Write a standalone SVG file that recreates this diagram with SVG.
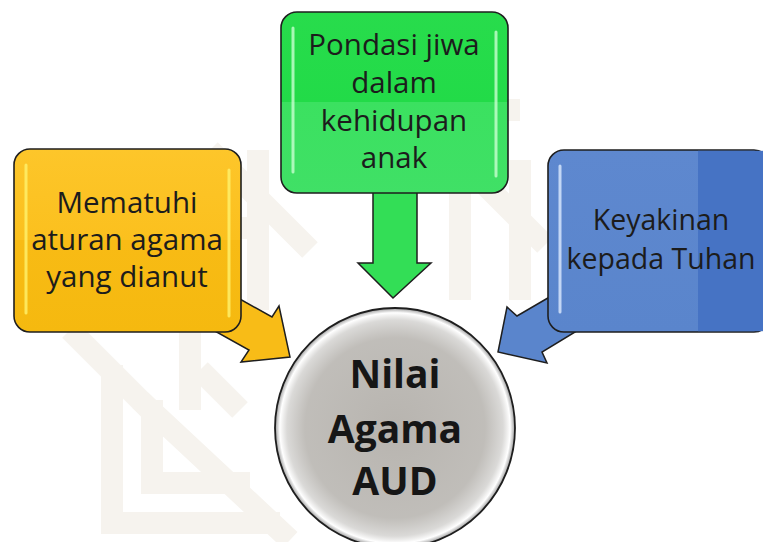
<svg xmlns="http://www.w3.org/2000/svg" width="763" height="542" viewBox="0 0 763 542">
<style>
.box{stroke:#1e1e1e;stroke-width:1.6}
.arr{stroke:#1e1e1e;stroke-width:1.5;stroke-linejoin:miter}
.t{font-family:"Open Sans","Noto Sans","DejaVu Sans",sans-serif;font-size:29.5px;fill:#1c1c1c;text-anchor:middle}
.tb{font-family:"Open Sans","Noto Sans","DejaVu Sans",sans-serif;font-size:28.5px;fill:#1c1c1c;text-anchor:middle}
.tc{font-family:"Open Sans","Noto Sans","DejaVu Sans",sans-serif;font-size:39px;font-weight:bold;fill:#161616;text-anchor:middle}
.wm{fill:none;stroke:#F6F3EE;stroke-width:22;stroke-linejoin:miter}
.hl{stroke-width:3;stroke-linecap:round;opacity:0.8}
</style>
<defs>
<linearGradient id="gy" x1="0" y1="0" x2="0" y2="1">
<stop offset="0" stop-color="#FDC62A"/><stop offset="0.5" stop-color="#FBC01E"/><stop offset="0.5" stop-color="#F8BB15"/><stop offset="1" stop-color="#F5B90F"/>
</linearGradient>
<linearGradient id="gg" x1="0" y1="0" x2="0" y2="1">
<stop offset="0" stop-color="#28DC4C"/><stop offset="0.5" stop-color="#22DB48"/><stop offset="0.5" stop-color="#3BE160"/><stop offset="1" stop-color="#40E066"/>
</linearGradient>
<linearGradient id="gb" x1="0" y1="0" x2="0" y2="1">
<stop offset="0" stop-color="#5E88CF"/><stop offset="1" stop-color="#5A85CC"/>
</linearGradient>
<radialGradient id="gc" cx="0.5" cy="0.5" r="0.5">
<stop offset="0" stop-color="#ABA7A1" stop-opacity="0.85"/>
<stop offset="0.75" stop-color="#B5B2AD" stop-opacity="0.85"/>
<stop offset="0.9" stop-color="#D6D5D3" stop-opacity="0.9"/>
<stop offset="0.96" stop-color="#FFFFFF"/>
<stop offset="1" stop-color="#9C9C9C"/>
</radialGradient>
</defs>
<rect width="763" height="542" fill="#FFFFFF"/>
<g id="watermark">
<polyline class="wm" points="112,365 112,523 280,523"/>
<polyline class="wm" points="152,400 152,483 250,483"/>
<polyline class="wm" points="190,318 190,410"/>
<line class="wm" x1="70" y1="330" x2="170" y2="430"/>
<line class="wm" x1="140" y1="400" x2="290" y2="540"/>
<line class="wm" x1="200" y1="370" x2="240" y2="410"/>
<polyline class="wm" points="258,150 258,310"/>
<polyline class="wm" points="200,228 258,228"/>
<line class="wm" x1="210" y1="150" x2="310" y2="250"/>
<polyline class="wm" points="300,110 520,110"/>
<polyline class="wm" points="460,160 460,300"/>
<line class="wm" x1="470" y1="170" x2="545" y2="245"/>
<polyline class="wm" points="520,160 520,300"/>
</g>
<g id="connectors">
<polygon class="arr" fill="#F8BC17" points="215,285 272,317 279,306 290,357 241,362 249,350 195,320"/>
<polygon class="arr" fill="#33DE56" points="373,180 417,180 417,263 431,263 393,298 358,263 373,263"/>
<polygon class="arr" fill="#5A85CC" points="565,288 517,316 507,307 498,352 547,363 542,352 585,326"/>
</g>
<g id="node-yellow">
<rect class="box" x="14" y="149" width="227" height="183" rx="16" fill="url(#gy)"/>
<line class="hl" x1="26" y1="165" x2="26" y2="313" stroke="#FFF36E"/>
<line class="hl" x1="229" y1="170" x2="229" y2="316" stroke="#FFF36E"/>
<text class="t" x="127" y="213">Mematuhi</text>
<text class="t" x="127" y="250">aturan agama</text>
<text class="t" x="127" y="287">yang dianut</text>
</g>
<g id="node-green">
<rect class="box" x="281" y="12" width="227" height="181" rx="16" fill="url(#gg)"/>
<line class="hl" x1="293" y1="28" x2="293" y2="172" stroke="#C8FFD0"/>
<line class="hl" x1="496" y1="32" x2="496" y2="176" stroke="#C8FFD0"/>
<text class="t" x="394" y="55">Pondasi jiwa</text>
<text class="t" x="394" y="93">dalam</text>
<text class="t" x="394" y="131">kehidupan</text>
<text class="t" x="394" y="168">anak</text>
</g>
<g id="node-blue">
<rect class="box" x="548" y="150" width="222" height="182" rx="16" fill="url(#gb)"/>
<rect x="698" y="150.8" width="66" height="180.4" fill="#4673C4"/>
<line class="hl" x1="560" y1="166" x2="560" y2="312" stroke="#DDEBFF"/>
<text class="tb" x="661" y="230">Keyakinan</text>
<text class="tb" x="661" y="269">kepada Tuhan</text>
</g>
<g id="node-center">
<circle cx="395" cy="428" r="120" fill="url(#gc)" stroke="#1e1e1e" stroke-width="1.8"/>
<text class="tc" x="395" y="388">Nilai</text>
<text class="tc" x="395" y="443">Agama</text>
<text class="tc" x="395" y="495">AUD</text>
</g>
</svg>
